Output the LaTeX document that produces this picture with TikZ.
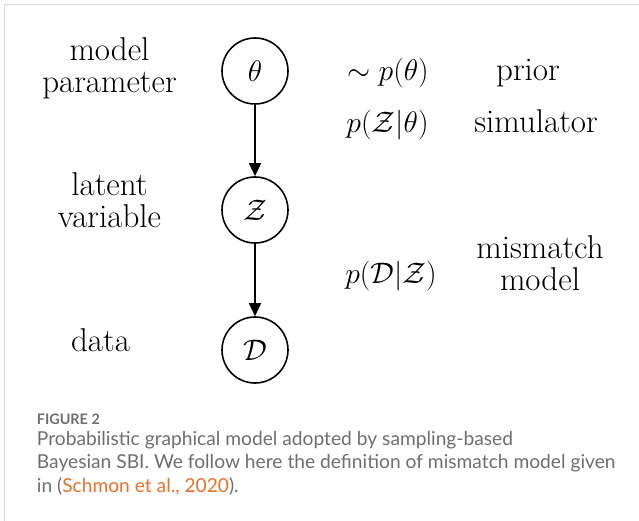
\RequirePackage{fix-cm}
\documentclass[tikz,border=0pt]{standalone}
\usepackage{fontspec}
\newfontfamily\capfont{Lato}
\usetikzlibrary{arrows.meta}

\definecolor{capgray}{HTML}{6E6E6E}
\definecolor{citeorange}{HTML}{E8712A}
\definecolor{framegray}{HTML}{DADADA}

\begin{document}
\begin{tikzpicture}[x=1pt,y=-1pt,
        font=\fontsize{29.7}{32}\selectfont,
        var/.style={circle,draw,line width=1.6pt,minimum size=66pt,inner sep=0pt},
        lbl/.style={align=center,anchor=base,inner sep=0pt,font=\fontsize{33}{32}\selectfont},
        pdf/.style={anchor=base,inner sep=0pt},
        link/.style={line width=1.6pt,-{Triangle[width=12pt,length=13pt]}},
        captext/.style={anchor=base west,inner sep=0pt,text=capgray,
            font=\capfont\fontsize{19.2}{24}\selectfont}]
    \useasboundingbox (0,0) rectangle (639,521);
    \draw[framegray,line width=1.5pt] (4.5,521) -- (4.5,4.5) -- (639,4.5);

    % the chain
    \node[var] (theta) at (255,71) {$\theta$};
    \node[var] (latent) at (255,210) {$\mathcal{Z}$};
    \node[var] (data) at (255,350) {$\mathcal{D}$};
    \draw[link] (theta) -- (latent);
    \draw[link] (latent) -- (data);

    % names on the left (base = last line)
    \begin{scope}[every node/.style={lbl}]
        \node (thetaname) at (109.5,92.5) {model\\parameter};
        \node (latentname) at (109.5,227) {latent\\variable};
        \node (dataname) at (100.5,351) {data};
    \end{scope}

    % distributions on the right
    \node[pdf] (priorpdf) at (388,81) {$\sim p(\theta)$};
    \node[pdf] (simpdf) at (387.5,133) {$p(\mathcal{Z}|\theta)$};
    \node[pdf] (mismpdf) at (391,283) {$p(\mathcal{D}|\mathcal{Z})$};
    \begin{scope}[every node/.style={lbl}]
        \node (priorname) at (528,81) {prior};
        \node (simname) at (536,133) {simulator};
        \node (mismname) at (540,290) {mismatch\\model};
    \end{scope}

    % caption
    \node[captext,font=\capfont\bfseries\fontsize{14.4}{16}\selectfont] (capnum) at (36.7,424.3) {FIGURE 2};
    \node[captext] (capline1) at (36.7,445) {Probabilistic graphical model adopted by sampling-based};
    \node[captext] (capline2) at (36.7,468.3) {Bayesian SBI. We follow here the definition of mismatch model given};
    \node[captext] (capline3) at (36.7,492.7) {in (\textcolor{citeorange}{Schmon et al., 2020}).};
\end{tikzpicture}
\end{document}
